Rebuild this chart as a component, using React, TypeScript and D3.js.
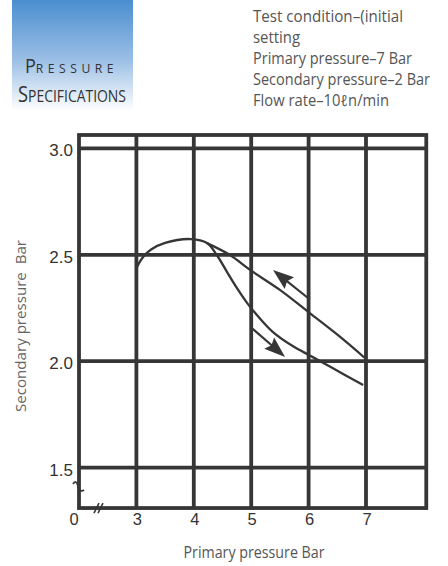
import React from 'react';
import * as d3 from 'd3';

// ---- data ----
const xTickValues = [2, 3, 4, 5, 6, 7];
const xTickLabels = ['0', '3', '4', '5', '6', '7'];
const xGridValues = [3, 4, 5, 6, 7];
const yTickValues = [1.5, 2.0, 2.5, 3.0];
const yTickLabels = ['1.5', '2.0', '2.5', '3.0'];

// increasing primary pressure (lower branch)
const risingX = [3.01, 3.1, 3.25, 3.5, 3.95, 4.23, 4.4, 4.58, 4.75, 4.93, 5.1, 5.38, 5.73, 6.02, 6.37, 6.95];
const risingY = [2.443, 2.484, 2.524, 2.556, 2.574, 2.555, 2.499, 2.419, 2.344, 2.273, 2.217, 2.137, 2.07, 2.027, 1.975, 1.888];
// decreasing primary pressure (upper branch)
const fallingX = [4.23, 4.63, 4.98, 5.5, 6.02, 6.55, 6.98];
const fallingY = [2.555, 2.499, 2.429, 2.335, 2.226, 2.114, 2.015];

const arrowUpFrom = [5.99, 2.297];
const arrowUpTo = [5.38, 2.429];
const arrowDownFrom = [5.01, 2.156];
const arrowDownTo = [5.59, 2.02];

const headerLines = [
  'Test condition\u2013(initial',
  'setting',
  'Primary pressure\u20137 Bar',
  'Secondary pressure\u20132 Bar',
  'Flow rate\u201310\u2113n/min',
];
const headerWidths = [150, 47, 159, 177, 136];

const W = 448;
const H = 566;
const INK = '#363636';

export default function App() {
  const x = d3.scaleLinear().domain([2, 7]).range([79, 366]);
  const y = d3.scaleLinear().domain([1.5, 3.0]).range([467.6, 148.4]);

  const left = x(2);
  const right = x(8.05);
  const top = y(3.063);
  const bottom = y(1.31);

  const line = d3
    .line<[number, number]>()
    .x((d) => x(d[0]))
    .y((d) => y(d[1]))
    .curve(d3.curveCatmullRom.alpha(0.5));

  const rising = risingX.map((v, i) => [v, risingY[i]] as [number, number]);
  const falling = fallingX.map((v, i) => [v, fallingY[i]] as [number, number]);

  const arrow = (from: number[], to: number[]) => {
    const x1 = x(from[0]);
    const y1 = y(from[1]);
    const x2 = x(to[0]);
    const y2 = y(to[1]);
    const dx = x2 - x1;
    const dy = y2 - y1;
    const len = Math.hypot(dx, dy);
    const ux = dx / len;
    const uy = dy / len;
    const hl = 21;
    const hw = 7.5;
    const bx = x2 - ux * hl;
    const by = y2 - uy * hl;
    const pts = [
      [x2, y2],
      [bx - uy * hw, by + ux * hw],
      [bx + ux * 3, by + uy * 3],
      [bx + uy * hw, by - ux * hw],
    ];
    return (
      <g>
        <line x1={x1} y1={y1} x2={bx + ux * 4} y2={by + uy * 4} stroke={INK} strokeWidth={2.2} />
        <polygon points={pts.map((p) => p.join(',')).join(' ')} fill={INK} />
      </g>
    );
  };

  const axisFont = 'Liberation Sans, Arial, sans-serif';
  const labelFont = 'Open Sans, Noto Sans, sans-serif';

  return (
    <svg
      width={W}
      height={H}
      viewBox={`0 0 ${W} ${H}`}
      style={{ position: 'absolute', left: 0, top: 0, background: '#fff' }}
    >
      <defs>
        <linearGradient id="hdr" x1="0" y1="0" x2="0" y2="1">
          <stop offset="0" stopColor="#4a8ed0" />
          <stop offset="0.55" stopColor="#9dc0e6" />
          <stop offset="1" stopColor="#ffffff" />
        </linearGradient>
      </defs>

      {/* header box */}
      <rect x={12} y={0} width={121} height={111} fill="url(#hdr)" />
      <text x={25} y={72.7} fill="#333" fontFamily={labelFont} textLength={93} lengthAdjust="spacingAndGlyphs">
        <tspan fontSize={20}>P</tspan>
        <tspan fontSize={13.5} letterSpacing={5}>RESSURE</tspan>
      </text>
      <text x={18} y={101.5} fill="#333" fontFamily={labelFont} textLength={108} lengthAdjust="spacingAndGlyphs">
        <tspan fontSize={21}>S</tspan>
        <tspan fontSize={16}>PECIFICATIONS</tspan>
      </text>

      {/* header text */}
      {headerLines.map((t, i) => (
        <text
          key={i}
          x={253}
          y={21.7 + i * 21.1}
          fontSize={15.5}
          fill="#555"
          fontFamily={labelFont}
          textLength={headerWidths[i]}
          lengthAdjust="spacingAndGlyphs"
        >
          {t}
        </text>
      ))}

      {/* grid */}
      {xGridValues.map((v) => (
        <line key={'gx' + v} x1={x(v)} x2={x(v)} y1={top} y2={bottom} stroke={INK} strokeWidth={3.8} />
      ))}
      {yTickValues.map((v) => (
        <line key={'gy' + v} x1={left} x2={right} y1={y(v)} y2={y(v)} stroke={INK} strokeWidth={3.8} />
      ))}
      <rect x={left} y={top} width={right - left} height={bottom - top} fill="none" stroke={INK} strokeWidth={3.8} />

      {/* axis breaks */}
      <path
        d={`M${left - 6},${bottom - 24} q3,-5 5,2 t6,4`}
        fill="none"
        stroke={INK}
        strokeWidth={1.8}
      />
      <path
        d={`M${left + 15},${bottom + 5} l5,-10 M${left + 19},${bottom + 5} l5,-10`}
        fill="none"
        stroke={INK}
        strokeWidth={1.6}
      />

      {/* curves */}
      <path d={line(rising) || ''} fill="none" stroke={INK} strokeWidth={2.3} />
      <path d={line(falling) || ''} fill="none" stroke={INK} strokeWidth={2.3} />
      {arrow(arrowUpFrom, arrowUpTo)}
      {arrow(arrowDownFrom, arrowDownTo)}

      {/* tick labels */}
      {yTickValues.map((v, i) => (
        <text
          key={'ty' + v}
          x={73}
          y={y(v) + 8}
          fontSize={17}
          textAnchor="end"
          fill="#333"
          fontFamily={axisFont}
        >
          {yTickLabels[i]}
        </text>
      ))}
      {xTickValues.map((v, i) => (
        <text
          key={'tx' + v}
          x={x(v) + (i === 0 ? -5 : 1)}
          y={525}
          fontSize={16.5}
          textAnchor="middle"
          fill="#333"
          fontFamily={axisFont}
        >
          {xTickLabels[i]}
        </text>
      ))}

      {/* axis titles */}
      <text
        x={254}
        y={558}
        fontSize={16}
        textAnchor="middle"
        fill="#555"
        fontFamily={labelFont}
        textLength={141}
        lengthAdjust="spacingAndGlyphs"
      >
        Primary pressure Bar
      </text>
      <text
        transform={`translate(26,${326}) rotate(-90)`}
        fontSize={15}
        textAnchor="middle"
        fill="#666"
        fontFamily={labelFont}
        textLength={172}
        lengthAdjust="spacingAndGlyphs"
        style={{ whiteSpace: 'pre' }}
      >
        {'Secondary pressure\u00a0\u00a0Bar'}
      </text>
    </svg>
  );
}
